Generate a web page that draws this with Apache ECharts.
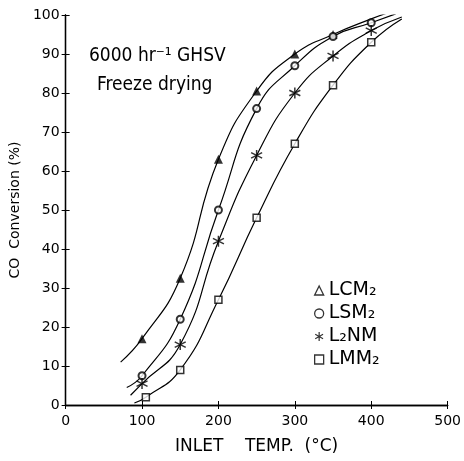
<!DOCTYPE html>
<html>
<head>
<meta charset="utf-8">
<script src="https://cdn.jsdelivr.net/npm/echarts@6/dist/echarts.min.js"></script>
<style>
html,body{margin:0;padding:0;background:#fff;}
#main{width:464px;height:461px;}
</style>
</head>
<body>
<div id="main"></div>
<script>
// measured points (inlet temp, CO conversion %)
var lcmTemp = [100, 150, 200, 250, 300, 350];
var lcmConv = [17, 32.5, 63, 80.5, 90, 95];
var lsmTemp = [100, 150, 200, 250, 300, 350, 400];
var lsmConv = [7.5, 22, 50, 76, 87, 94.5, 98];
var l2nmTemp = [100, 150, 200, 250, 300, 350, 400];
var l2nmConv = [5.5, 15.5, 42, 64, 80, 89.5, 96];
var lmmTemp = [105, 150, 200, 250, 300, 350, 400];
var lmmConv = [2, 9, 27, 48, 67, 82, 93];

// hand drawn curves
var lcmCurveTemp = [72, 100, 150, 200, 250, 300, 350, 400, 425];
var lcmCurveConv = [11, 17, 32.5, 63, 80.5, 90, 95, 99, 100.8];
var lsmCurveTemp = [80, 100, 150, 200, 250, 300, 350, 400, 432];
var lsmCurveConv = [4.5, 7.5, 22, 50, 76, 87, 94.5, 98, 100.3];
var l2nmCurveTemp = [85, 100, 150, 200, 250, 300, 350, 400, 440];
var l2nmCurveConv = [2.5, 5.5, 15.5, 42, 64, 80, 89.5, 96, 99.5];
var lmmCurveTemp = [90, 105, 150, 200, 250, 300, 350, 400, 440];
var lmmCurveConv = [0.5, 2, 9, 27, 48, 67, 82, 93, 99];

var names = ['LCM₂', 'LSM₂', 'L₂NM', 'LMM₂'];

var starPath = 'path://M0,-10L0,10M-8.7,-5L8.7,5M-8.7,5L8.7,-5';

function pairs(a, b){
	var out = [];
	for(var i = 0; i < a.length; i++){
		out.push([a[i], b[i]]);
	}
	return out;
}

var myChart = echarts.init(document.getElementById('main'));
var font = 'DejaVu Sans';

function curve(name, t, v){
	return {
		name: name,
		type: 'line',
		data: pairs(t, v),
		smooth: 0.5,
		showSymbol: false,
		symbol: 'none',
		lineStyle: {color: '#000', width: 1.2},
		silent: true,
		z: 2
	};
}

var option = {
	animation: false,
	backgroundColor: '#fff',
	grid: {left: 63, right: 9, top: 15, bottom: 56},
	legend: {
		orient: 'vertical',
		left: 309,
		top: 276,
		itemWidth: 9,
		itemHeight: 9,
		itemGap: 4,
		textStyle: {fontFamily: font, fontSize: 19, color: '#000'},
		data: [
			{name: names[0], icon: 'triangle', itemStyle: {color: '#fff', borderColor: '#000', borderWidth: 1.3}},
			{name: names[1], icon: 'circle', itemStyle: {color: '#fff', borderColor: '#000', borderWidth: 1.3}},
			{name: names[2], icon: starPath, itemStyle: {color: '#000', borderColor: '#000', borderWidth: 1.2}},
			{name: names[3], icon: 'rect', itemStyle: {color: '#fff', borderColor: '#000', borderWidth: 1.3}}
		]
	},
	xAxis: [
		{
			type: 'value', min: 0, max: 500, interval: 100,
			name: 'INLET    TEMP.  (°C)', nameLocation: 'middle', nameGap: 33,
			nameTextStyle: {fontFamily: font, fontSize: 17, color: '#000'},
			axisLine: {lineStyle: {color: '#000', width: 1.3}},
			axisTick: {inside: true, length: 4, lineStyle: {color: '#000'}},
			axisLabel: {fontFamily: font, fontSize: 14, color: '#000', margin: 9},
			splitLine: {show: false}
		},
		{
			type: 'value', position: 'top', min: 0, max: 500, interval: 100,
			axisLine: {lineStyle: {color: '#000', width: 1.3}},
			axisTick: {inside: true, length: 4, lineStyle: {color: '#000'}},
			axisLabel: {show: false},
			splitLine: {show: false}
		}
	],
	yAxis: [
		{
			type: 'value', min: 0, max: 100, interval: 10,
			name: 'CO  Conversion (%)', nameLocation: 'middle', nameGap: 43,
			nameTextStyle: {fontFamily: font, fontSize: 14, color: '#000'},
			axisLine: {show: true, lineStyle: {color: '#000', width: 1.3}},
			axisTick: {show: true, inside: true, length: 4, lineStyle: {color: '#000'}},
			axisLabel: {fontFamily: font, fontSize: 14, color: '#000', margin: 6},
			splitLine: {show: false}
		},
		{
			type: 'value', position: 'right', min: 0, max: 100, interval: 10,
			axisLine: {show: true, lineStyle: {color: '#000', width: 1.3}},
			axisTick: {show: true, inside: true, length: 4, lineStyle: {color: '#000'}},
			axisLabel: {show: false},
			splitLine: {show: false}
		}
	],
	graphic: [
		{type: 'text', left: 89, top: 47, style: {text: '6000 hr⁻¹ GHSV', font: '19px "DejaVu Sans Condensed"', fill: '#000'}},
		{type: 'text', left: 97, top: 76, style: {text: 'Freeze drying', font: '19px "DejaVu Sans Condensed"', fill: '#000'}}
	],
	series: [
		curve('lcm-fit', lcmCurveTemp, lcmCurveConv),
		curve('lsm-fit', lsmCurveTemp, lsmCurveConv),
		curve('l2nm-fit', l2nmCurveTemp, l2nmCurveConv),
		curve('lmm-fit', lmmCurveTemp, lmmCurveConv),
		{
			name: names[0], type: 'scatter', data: pairs(lcmTemp, lcmConv),
			symbol: 'triangle', symbolSize: 9,
			itemStyle: {color: '#000'}, z: 3
		},
		{
			name: names[1], type: 'scatter', data: pairs(lsmTemp, lsmConv),
			symbol: 'circle', symbolSize: 7,
			itemStyle: {color: '#fff', borderColor: '#000', borderWidth: 2}, z: 3
		},
		{
			name: names[2], type: 'scatter', data: pairs(l2nmTemp, l2nmConv),
			symbol: starPath, symbolSize: 11,
			itemStyle: {color: '#000', borderColor: '#000', borderWidth: 1.5}, z: 3
		},
		{
			name: names[3], type: 'scatter', data: pairs(lmmTemp, lmmConv),
			symbol: 'rect', symbolSize: 7,
			itemStyle: {color: '#fff', borderColor: '#000', borderWidth: 1.5}, z: 3
		}
	]
};
myChart.setOption(option);
</script>
</body>
</html>
